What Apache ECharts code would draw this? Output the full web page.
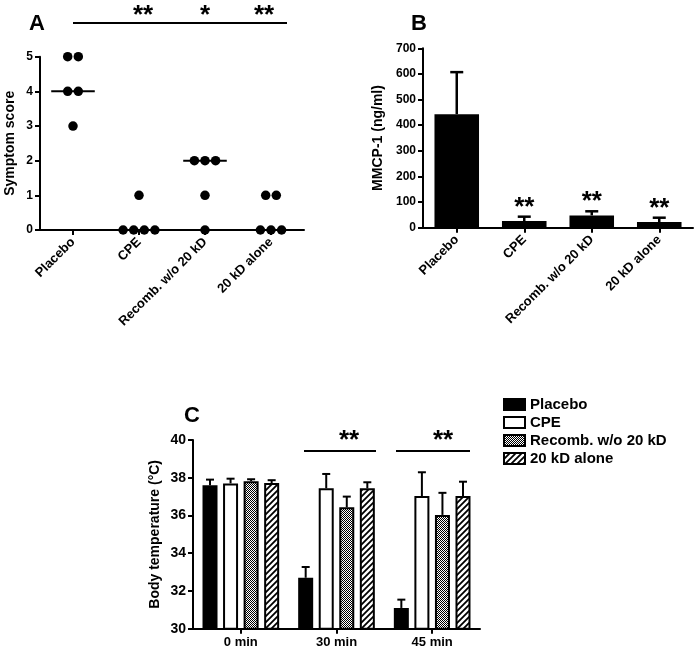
<!DOCTYPE html>
<html><head><meta charset="utf-8">
<script src="https://cdn.jsdelivr.net/npm/echarts@6/dist/echarts.min.js"></script>
<style>html,body{margin:0;padding:0;background:#fff}#c{width:700px;height:653px}</style>
</head><body><div id="c"></div>
<script>
// ---------- data ----------
const groups = ['Placebo', 'CPE', 'Recomb. w/o 20 kD', '20 kD alone'];
const scorePlacebo = [5, 5, 4, 4, 3];
const scoreCPE = [1, 0, 0, 0, 0];
const scoreRecomb = [2, 2, 2, 1, 0];
const score20kD = [1, 1, 0, 0, 0];
const scoreMedians = [4, 0, 2, 0];
const scoreTicks = [0, 1, 2, 3, 4, 5];

const mmcpMean = [443, 26, 48, 22];
const mmcpErr = [164, 17, 16, 17];
const mmcpSig = ['', '**', '**', '**'];

const timePoints = ['0 min', '30 min', '45 min'];
const tempPlacebo = [37.6, 32.7, 31.1];
const tempPlaceboErr = [0.3, 0.57, 0.44];
const tempCPE = [37.7, 37.44, 37.03];
const tempCPEErr = [0.25, 0.76, 1.26];
const tempRecomb = [37.82, 36.43, 36.03];
const tempRecombErr = [0.1, 0.57, 1.17];
const temp20kD = [37.72, 37.44, 37.03];
const temp20kDErr = [0.15, 0.32, 0.76];

// ---------- styling ----------
const F = "'Liberation Sans', Arial, sans-serif";
const K = '#000';

function checker() {
  const c = document.createElement('canvas'); c.width = 2; c.height = 2;
  const g = c.getContext('2d');
  g.fillStyle = '#fff'; g.fillRect(0, 0, 2, 2);
  g.fillStyle = '#000'; g.fillRect(0, 0, 1, 1); g.fillRect(1, 1, 1, 1);
  return c;
}
function hatch() {
  const s = 6;
  const c = document.createElement('canvas'); c.width = s; c.height = s;
  const g = c.getContext('2d');
  g.fillStyle = '#fff'; g.fillRect(0, 0, s, s);
  g.strokeStyle = '#000'; g.lineWidth = 1.8;
  g.beginPath();
  g.moveTo(-1, s + 1); g.lineTo(s + 1, -1);
  g.moveTo(-1, 1); g.lineTo(1, -1);
  g.moveTo(s - 1, s + 1); g.lineTo(s + 1, s - 1);
  g.stroke();
  return c;
}
const patGrey = { image: checker(), repeat: 'repeat' };
const patHatch = { image: hatch(), repeat: 'repeat' };

// beeswarm-style offsets for identical values
const DOT_STEP = 10.6;
function swarm(vals, gi) {
  const counts = {}, seen = {};
  vals.forEach(v => counts[v] = (counts[v] || 0) + 1);
  return vals.map(v => {
    const i = seen[v] = (seen[v] === undefined ? 0 : seen[v] + 1);
    const off = (i - (counts[v] - 1) / 2) * DOT_STEP;
    return { value: [gi, v], symbolOffset: [off, 0] };
  });
}
const scoreData = [].concat(
  swarm(scorePlacebo, 0), swarm(scoreCPE, 1), swarm(scoreRecomb, 2), swarm(score20kD, 3));

const C_BW = 15, C_GAP = 0.37, C_STEP = C_BW * (1 + C_GAP);

function axisCommon(extra) {
  return Object.assign({
    axisLine: { show: true, lineStyle: { color: K, width: 2 } },
    axisTick: { show: true, lineStyle: { color: K, width: 2 }, length: 5 },
    splitLine: { show: false },
    axisLabel: { color: K, fontFamily: F, fontWeight: 'bold', fontSize: 12 }
  }, extra);
}

const tempSeries = [
  ['Placebo', tempPlacebo, tempPlaceboErr, K],
  ['CPE', tempCPE, tempCPEErr, '#fff'],
  ['Recomb. w/o 20 kD', tempRecomb, tempRecombErr, patGrey],
  ['20 kD alone', temp20kD, temp20kDErr, patHatch]
];

const series = [];
// Panel A
series.push({
  type: 'scatter', xAxisIndex: 0, yAxisIndex: 0, data: scoreData,
  symbolSize: 9.5, itemStyle: { color: K, opacity: 1 }, z: 5, silent: true
});
series.push({
  type: 'custom', xAxisIndex: 0, yAxisIndex: 0, z: 4,
  data: scoreMedians.map((m, i) => [i, m]),
  renderItem(params, api) {
    const p = api.coord([api.value(0), api.value(1)]);
    const h = api.size([1, 0])[0] * 0.33;
    return { type: 'line', shape: { x1: p[0] - h, y1: p[1], x2: p[0] + h, y2: p[1] },
      style: { stroke: K, lineWidth: 2 } };
  }
});
// Panel B
series.push({
  type: 'custom', xAxisIndex: 1, yAxisIndex: 1, z: 1,
  data: mmcpMean.map((m, i) => [i, m, mmcpErr[i]]),
  renderItem(params, api) {
    const i = api.value(0);
    const b = api.coord([i, api.value(1)]);
    const t = api.coord([i, api.value(1) + api.value(2)]);
    const ch = [
      { type: 'line', shape: { x1: b[0], y1: b[1], x2: b[0], y2: t[1] }, style: { stroke: K, lineWidth: 2.5 } },
      { type: 'line', shape: { x1: b[0] - 6.5, y1: t[1], x2: b[0] + 6.5, y2: t[1] }, style: { stroke: K, lineWidth: 2.5 } }
    ];
    if (mmcpSig[i]) ch.push({ type: 'text', style: { text: mmcpSig[i], x: b[0], y: t[1] - 9,
      align: 'center', verticalAlign: 'middle', font: 'bold 26px ' + F, fill: K } });
    return { type: 'group', children: ch };
  }
});
series.push({
  type: 'bar', xAxisIndex: 1, yAxisIndex: 1, data: mmcpMean, barWidth: '66%', z: 2,
  itemStyle: { color: K }, silent: true
});
// Panel C
tempSeries.forEach(([name, vals, errs, col], k) => {
  series.push({
    type: 'custom', xAxisIndex: 2, yAxisIndex: 2, z: 1,
    data: vals.map((v, i) => [i, v, errs[i], k]),
    renderItem(params, api) {
      const i = api.value(0), v = api.value(1), e = api.value(2), kk = api.value(3);
      const b = api.coord([i, v]), t = api.coord([i, v + e]);
      const x = b[0] + (kk - 1.5) * C_STEP;
      return { type: 'group', children: [
        { type: 'line', shape: { x1: x, y1: b[1], x2: x, y2: t[1] }, style: { stroke: K, lineWidth: 2 } },
        { type: 'line', shape: { x1: x - 4, y1: t[1], x2: x + 4, y2: t[1] }, style: { stroke: K, lineWidth: 2 } }
      ] };
    }
  });
  series.push({
    type: 'bar', name, xAxisIndex: 2, yAxisIndex: 2, data: vals, z: 2,
    barWidth: C_BW, barGap: (C_GAP * 100) + '%',
    itemStyle: { color: col, borderColor: K, borderWidth: 2 }, silent: true
  });
});

const T = (text, x, y, size) => ({ type: 'text', x, y,
  style: { text, font: 'bold ' + size + 'px ' + F, fill: K, align: 'center', verticalAlign: 'middle' } });
const L = (x1, y1, x2, y2) => ({ type: 'line', shape: { x1, y1, x2, y2 }, style: { stroke: K, lineWidth: 2 } });

const catLabel = (rot) => ({ color: K, fontFamily: F, fontWeight: 'bold', fontSize: 13, rotate: rot, interval: 0, margin: 10 });
const tick = { show: true, alignWithLabel: true, length: 5, lineStyle: { color: K, width: 2 } };

const option = {
  animation: false,
  backgroundColor: '#fff',
  grid: [
    { left: 40, top: 56.7, width: 264, height: 173.3 },
    { left: 423, top: 48.3, width: 270, height: 179.4 },
    { left: 193, top: 440, width: 287, height: 188.7 }
  ],
  xAxis: [
    axisCommon({ type: 'category', gridIndex: 0, data: groups, axisTick: tick, axisLabel: catLabel(45) }),
    axisCommon({ type: 'category', gridIndex: 1, data: groups, axisTick: tick, axisLabel: catLabel(45) }),
    axisCommon({ type: 'category', gridIndex: 2, data: timePoints, axisTick: tick,
      axisLabel: { color: K, fontFamily: F, fontWeight: 'bold', fontSize: 13, interval: 0, margin: 7 } })
  ],
  yAxis: [
    axisCommon({ type: 'value', gridIndex: 0, min: 0, max: 5, interval: 1,
      name: 'Symptom score', nameLocation: 'middle', nameGap: 23,
      nameTextStyle: { color: K, fontFamily: F, fontWeight: 'bold', fontSize: 14 },
      axisLabel: { color: K, fontFamily: F, fontWeight: 'bold', fontSize: 12, margin: 7 } }),
    axisCommon({ type: 'value', gridIndex: 1, min: 0, max: 700, interval: 100,
      name: 'MMCP-1 (ng/ml)', nameLocation: 'middle', nameGap: 38,
      nameTextStyle: { color: K, fontFamily: F, fontWeight: 'bold', fontSize: 14 },
      axisLabel: { color: K, fontFamily: F, fontWeight: 'bold', fontSize: 12, margin: 7 } }),
    axisCommon({ type: 'value', gridIndex: 2, min: 30, max: 40, interval: 2,
      name: 'Body temperature (°C)', nameLocation: 'middle', nameGap: 31,
      nameTextStyle: { color: K, fontFamily: F, fontWeight: 'bold', fontSize: 14 },
      axisLabel: { color: K, fontFamily: F, fontWeight: 'bold', fontSize: 14, margin: 7 } })
  ],
  legend: {
    data: tempSeries.map(s => s[0]), orient: 'vertical', left: 498, top: 392,
    itemWidth: 21, itemHeight: 11, itemGap: 3, icon: 'rect',
    textStyle: { color: K, fontFamily: F, fontWeight: 'bold', fontSize: 15, lineHeight: 15 },
    selectedMode: false
  },
  graphic: [
    T('A', 37, 24, 22), T('B', 419, 24, 22), T('C', 192, 416, 22),
    L(73, 23, 287, 23), T('**', 143, 16, 26), T('*', 205, 16, 26), T('**', 264, 16, 26),
    L(304, 451, 376, 451), T('**', 349, 441, 26),
    L(396, 451, 470, 451), T('**', 443, 441, 26)
  ],
  series
};
const chart = echarts.init(document.getElementById('c'), null, { renderer: 'canvas' });
chart.setOption(option);
</script></body></html>
